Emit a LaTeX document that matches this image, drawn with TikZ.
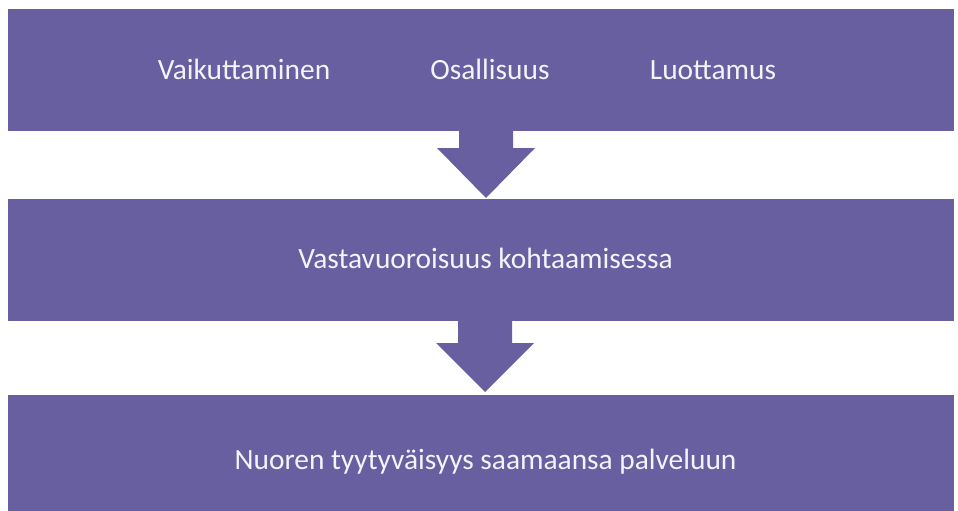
\documentclass[tikz,border=0pt]{standalone}
\usepackage{fontspec}
\setmainfont{Carlito}
\definecolor{boxpurple}{RGB}{103,95,159}
\definecolor{boxtext}{RGB}{244,242,250}
\begin{document}
\begin{tikzpicture}[x=1pt,y=-1pt,
  band/.style={fill=boxpurple,draw=none},
  lbl/.style={text=boxtext,font=\fontsize{29.4}{35}\selectfont,inner sep=0pt,anchor=base},
  blockarrow/.style={fill=boxpurple,draw=none}]
\useasboundingbox (0,0) rectangle (958,511);
\fill[band] (8,9) coordinate (b1nw) rectangle (954,131) coordinate (b1se);
\fill[band] (8,199) coordinate (b2nw) rectangle (954,321) coordinate (b2se);
\fill[band] (8,395) coordinate (b3nw) rectangle (954,511) coordinate (b3se);
\fill[blockarrow] (459,125) -- (513,125) -- (513,148) -- (535,148) -- (486,198) -- (437,148) -- (459,148) -- cycle;
\fill[blockarrow] (458,315) -- (512,315) -- (512,343) -- (534,343) -- (485,392) -- (436,343) -- (458,343) -- cycle;
\node[lbl] (t1) at (244,79) {Vaikuttaminen};
\node[lbl] (t2) at (490,79) {Osallisuus};
\node[lbl] (t3) at (713,79) {Luottamus};
\node[lbl] (t4) at (485.5,268) {Vastavuoroisuus kohtaamisessa};
\node[lbl] (t5) at (485.5,469) {Nuoren tyytyväisyys saamaansa palveluun};
\end{tikzpicture}
\end{document}
